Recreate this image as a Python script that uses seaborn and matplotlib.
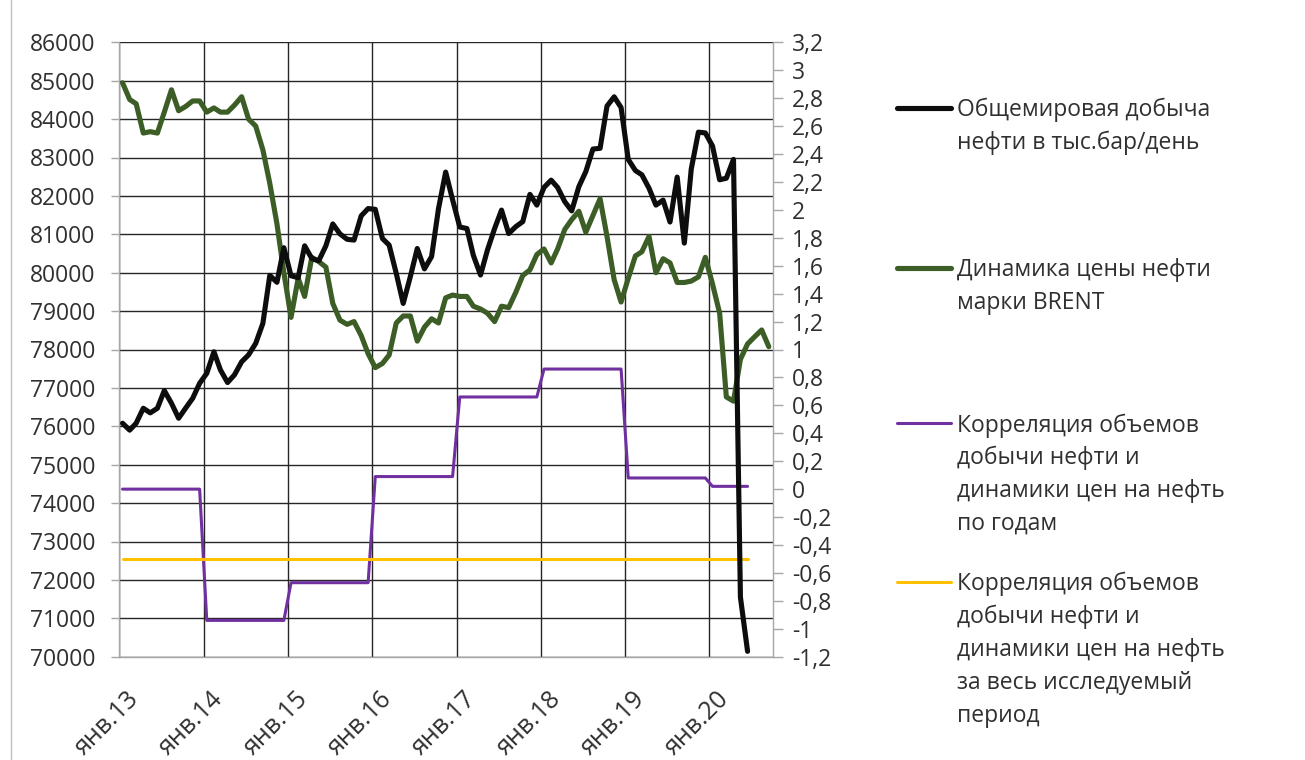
import numpy as np
import pandas as pd
import matplotlib
matplotlib.use("Agg")
import matplotlib.pyplot as plt
import matplotlib.transforms as mtransforms
from matplotlib.lines import Line2D
import seaborn as sns

# ---------------- data ----------------
first_month = "2013-01-01"
# World oil production, thousand barrels/day, monthly Jan 2013 - Jun 2020
production = [
    76080, 75900, 76080, 76470, 76350, 76470, 76930, 76600, 76210, 76470, 76730, 77120,
    77380, 77940, 77470, 77140, 77340, 77680, 77860, 78160, 78680, 79930, 79750, 80650,
    79920, 79870, 80700, 80370, 80310, 80700, 81270, 81010, 80870, 80850, 81480, 81670,
    81650, 80890, 80720, 79980, 79200, 79900, 80630, 80100, 80420, 81670, 82620, 81900,
    81190, 81150, 80450, 79940, 80590, 81150, 81630, 81020, 81200, 81330, 82040, 81760,
    82220, 82410, 82220, 81850, 81610, 82240, 82630, 83220, 83240, 84340, 84580, 84300,
    82950, 82660, 82550, 82200, 81760, 81890, 81320, 82490, 80770, 82700, 83660, 83640,
    83300, 82420, 82460, 82950, 71550, 70140,
]
# Brent price dynamics (right axis), monthly Jan 2013 - Sep 2020
brent = [
    2.91, 2.79, 2.76, 2.55, 2.56, 2.55, 2.70, 2.86, 2.71, 2.74, 2.78, 2.78,
    2.70, 2.73, 2.70, 2.70, 2.75, 2.81, 2.65, 2.60, 2.43, 2.19, 1.90, 1.55,
    1.23, 1.51, 1.38, 1.66, 1.63, 1.59, 1.33, 1.21, 1.18, 1.20, 1.10, 0.97,
    0.87, 0.90, 0.96, 1.19, 1.24, 1.24, 1.06, 1.16, 1.22, 1.19, 1.37, 1.39,
    1.38, 1.38, 1.31, 1.29, 1.26, 1.20, 1.31, 1.30, 1.41, 1.53, 1.57, 1.68,
    1.72, 1.62, 1.72, 1.86, 1.93, 1.99, 1.84, 1.96, 2.08, 1.81, 1.50, 1.34,
    1.51, 1.67, 1.70, 1.81, 1.55, 1.65, 1.62, 1.48, 1.48, 1.49, 1.52, 1.66,
    1.47, 1.26, 0.66, 0.63, 0.93, 1.04, 1.09, 1.14, 1.02,
]
# Correlation of production and price, by year (right axis)
corr_years = [2013, 2014, 2015, 2016, 2017, 2018, 2019, 2020]
corr_by_year = [0.0, -0.94, -0.67, 0.09, 0.66, 0.86, 0.08, 0.02]
# Correlation over the whole period
corr_total = -0.5

left_ticks = list(range(70000, 86001, 1000))
right_ticks = [-1.2, -1.0, -0.8, -0.6, -0.4, -0.2, 0.0, 0.2, 0.4, 0.6, 0.8, 1.0,
               1.2, 1.4, 1.6, 1.8, 2.0, 2.2, 2.4, 2.6, 2.8, 3.0, 3.2]
year_labels = ["янв.13", "янв.14", "янв.15", "янв.16", "янв.17", "янв.18", "янв.19", "янв.20"]

series_labels = [
    "Общемировая добыча\nнефти в тыс.бар/день",
    "Динамика цены нефти\nмарки BRENT",
    "Корреляция объемов\nдобычи нефти и\nдинамики цен на нефть\nпо годам",
    "Корреляция объемов\nдобычи нефти и\nдинамики цен на нефть\nза весь исследуемый\nпериод",
]
colors = ["#0d0d0d", "#3c5e26", "#7030a0", "#ffc000"]
widths = [3.7, 3.7, 2.2, 2.2]

# ---------------- frames ----------------
month_starts = pd.date_range(first_month, periods=len(brent), freq="MS")
dates = month_starts + pd.Timedelta(days=14)          # points sit mid-month
prod_df = pd.DataFrame({"date": dates[:len(production)], "value": production})
brent_df = pd.DataFrame({"date": dates, "value": brent})
corr_df = pd.DataFrame({"date": dates[:len(production)]})
corr_df["value"] = [corr_by_year[corr_years.index(d.year)] for d in corr_df["date"]]
total_df = pd.DataFrame({"date": dates[:len(production)], "value": corr_total})

# ---------------- style ----------------
sns.set_style("white")
plt.rcParams["font.family"] = ["Open Sans", "DejaVu Sans"]
FS = 16.5
TXT = "#303030"
AXC = "#a6a6a6"

W, H = 1305, 760
fig = plt.figure(figsize=(W / 100, H / 100), dpi=100)
L, R, T, B = 119.3, 772.5, 42.3, 656.7
ax = fig.add_axes([L / W, 1 - B / H, (R - L) / W, (B - T) / H])
ax2 = ax.twinx()
ax3 = ax.twinx()

# right-axis series
sns.lineplot(data=brent_df, x="date", y="value", ax=ax2, color=colors[1],
             linewidth=widths[1], solid_joinstyle="round", solid_capstyle="round", legend=False)
sns.lineplot(data=corr_df, x="date", y="value", ax=ax2, color=colors[2],
             linewidth=widths[2], solid_joinstyle="round", legend=False)
sns.lineplot(data=total_df, x="date", y="value", ax=ax2, color=colors[3],
             linewidth=widths[3], legend=False)
# left-axis series (drawn on top)
sns.lineplot(data=prod_df, x="date", y="value", ax=ax3, color=colors[0],
             linewidth=widths[0], solid_joinstyle="round", solid_capstyle="round", legend=False)

xmin, xmax = pd.Timestamp("2013-01-01"), pd.Timestamp("2020-10-01")
year_ticks = pd.date_range("2013-01-01", "2020-01-01", freq="YS")
for a in (ax, ax2, ax3):
    a.set_xlim(xmin, xmax)
    a.set_xlabel("")
    a.set_ylabel("")

ax.set_ylim(70000, 86000)
ax3.set_ylim(70000, 86000)
ax2.set_ylim(-1.2, 3.2)
ax3.axis("off")

# left axis
ax.set_yticks(left_ticks)
ax.set_yticklabels([str(v) for v in left_ticks])
ax.tick_params(axis="y", direction="out", length=6, width=1, color=AXC,
               pad=11, labelsize=FS, labelcolor=TXT)
# right axis
ax2.set_yticks(right_ticks)
ax2.set_yticklabels([("%g" % round(v, 1)).replace(".", ",") for v in right_ticks])
ax2.tick_params(axis="y", direction="out", length=7, width=1, color=AXC,
                pad=7, labelsize=FS, labelcolor=TXT)
# x axis
ax.set_xticks(year_ticks)
ax.set_xticklabels(year_labels)
ax.tick_params(axis="x", direction="out", length=6, width=1, color=AXC,
               pad=22, labelsize=18, labelcolor=TXT)
shift = mtransforms.ScaledTranslation(0.16, 0, fig.dpi_scale_trans)
for lab in ax.get_xticklabels():
    lab.set_rotation(45)
    lab.set_ha("right")
    lab.set_va("center")
    lab.set_rotation_mode("anchor")
    lab.set_transform(lab.get_transform() + shift)

ax.grid(True, axis="both", color="#262626", linewidth=1.0)
ax.set_axisbelow(True)
ax2.grid(False)

for s in ("top", "right"):
    ax.spines[s].set_visible(False)
for s in ("left", "bottom"):
    ax.spines[s].set_color(AXC)
    ax.spines[s].set_linewidth(1.0)
for s in ("top", "left", "bottom"):
    ax2.spines[s].set_visible(False)
ax2.spines["right"].set_color(AXC)
ax2.spines["right"].set_linewidth(1.0)

# ---------------- legend (right side) ----------------
entry_tops = [107.5, 268, 423, 582]
line_step = 32.8
for lab, col, lw, y0 in zip(series_labels, colors, widths, entry_tops):
    fig.add_artist(Line2D([897 / W, 951 / W], [1 - y0 / H, 1 - y0 / H],
                          transform=fig.transFigure, color=col, linewidth=lw,
                          solid_capstyle="round"))
    for i, line in enumerate(lab.split("\n")):
        yb = y0 + i * line_step + 8.5
        fig.text(957 / W, 1 - yb / H, line, fontsize=FS, color=TXT,
                 ha="left", va="baseline")

# chart frame line on the left
fig.add_artist(Line2D([11 / W, 11 / W], [0, 1], transform=fig.transFigure,
                      color="#bfbfbf", linewidth=1.0))

fig.savefig("out.png", dpi=100)
